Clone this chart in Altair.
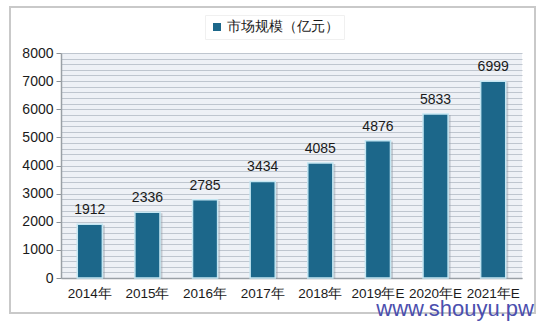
import altair as alt
import pandas as pd

years = ["2014年", "2015年", "2016年", "2017年", "2018年", "2019年E", "2020年E", "2021年E"]
values = [1912, 2336, 2785, 3434, 4085, 4876, 5833, 6999]
series_name = "市场规模（亿元）"
grid_values = list(range(0, 8001, 200))

df = pd.DataFrame({"year": years, "value": values, "series": [series_name] * len(years)})

FONT = "Liberation Sans"
W, H = 461, 225

x = alt.X("year:N", sort=years, title=None,
          scale=alt.Scale(paddingInner=0.565, paddingOuter=0.2825),
          axis=alt.Axis(labelAngle=0, labelFontSize=13.5, labelColor="#1a1a1a", labelFont=FONT,
                        labelPadding=8, ticks=False, domainColor="#9aa0a6", domainWidth=1.5,
                        grid=False))
y = alt.Y("value:Q", title=None,
          scale=alt.Scale(domain=[0, 8000], nice=False),
          axis=alt.Axis(values=grid_values,
                        labelExpr="datum.value % 1000 === 0 ? datum.label : ''",
                        format="d", labelFontSize=14, labelColor="#1a1a1a", labelFont=FONT,
                        labelPadding=3, tickSize=5, tickColor="#8a9096",
                        tickOpacity={"condition": {"test": "datum.value % 1000 === 0", "value": 1}, "value": 0},
                        domainColor="#9aa0a6", domainWidth=1.5,
                        grid=True, gridColor="#bfc6cf", gridWidth=1.2, labelOverlap=False))

frame = alt.Chart(df).mark_rect(fill=None, stroke="#c9c9c9", strokeWidth=2, clip=False).encode(
    x=alt.value(-51), x2=alt.value(474), y=alt.value(-46), y2=alt.value(260)
).transform_filter("datum.year === '2014年'")

shadow = alt.Chart(df).mark_bar(color="#8f98a3", opacity=0.45, xOffset=2.5, yOffset=1).encode(
    x=x, y=y
)

bars = alt.Chart(df).mark_bar(stroke="#c4e6f2", strokeWidth=1.5).encode(
    x=x, y=y,
    color=alt.Color("series:N", scale=alt.Scale(range=["#1c678a"]),
                    legend=alt.Legend(title=None, orient="none", legendX=144, legendY=-38,
                                      symbolType="square", symbolSize=64, symbolStrokeWidth=0,
                                      labelOffset=3,
                                      labelFontSize=14, labelFont=FONT, labelColor="#1a1a1a",
                                      fillColor="white", padding=5, strokeColor="#f0f0f0"))
)

labels = alt.Chart(df).mark_text(baseline="bottom", dy=-7, fontSize=14, font=FONT, color="#1a1a1a").encode(
    x=x, y=y, text=alt.Text("value:Q", format="d")
)

watermark = alt.Chart(df).mark_text(text="www.shouyu.pw", fontSize=22, font=FONT, color="#4b4fae",
                                    align="right", baseline="middle", clip=False).encode(
    x=alt.value(473), y=alt.value(256)
).transform_filter("datum.year === '2014年'")

chart = alt.layer(frame, shadow, bars, labels, watermark).properties(
    width=W, height=H,
    padding={"left": 61, "top": 53, "right": 22, "bottom": 45},
    autosize=alt.AutoSizeParams(type="none"),
    background="white"
).configure_view(stroke=None, fill="#eef1f6")

chart.save("out.html", embed_options={"renderer": "svg", "actions": False})
